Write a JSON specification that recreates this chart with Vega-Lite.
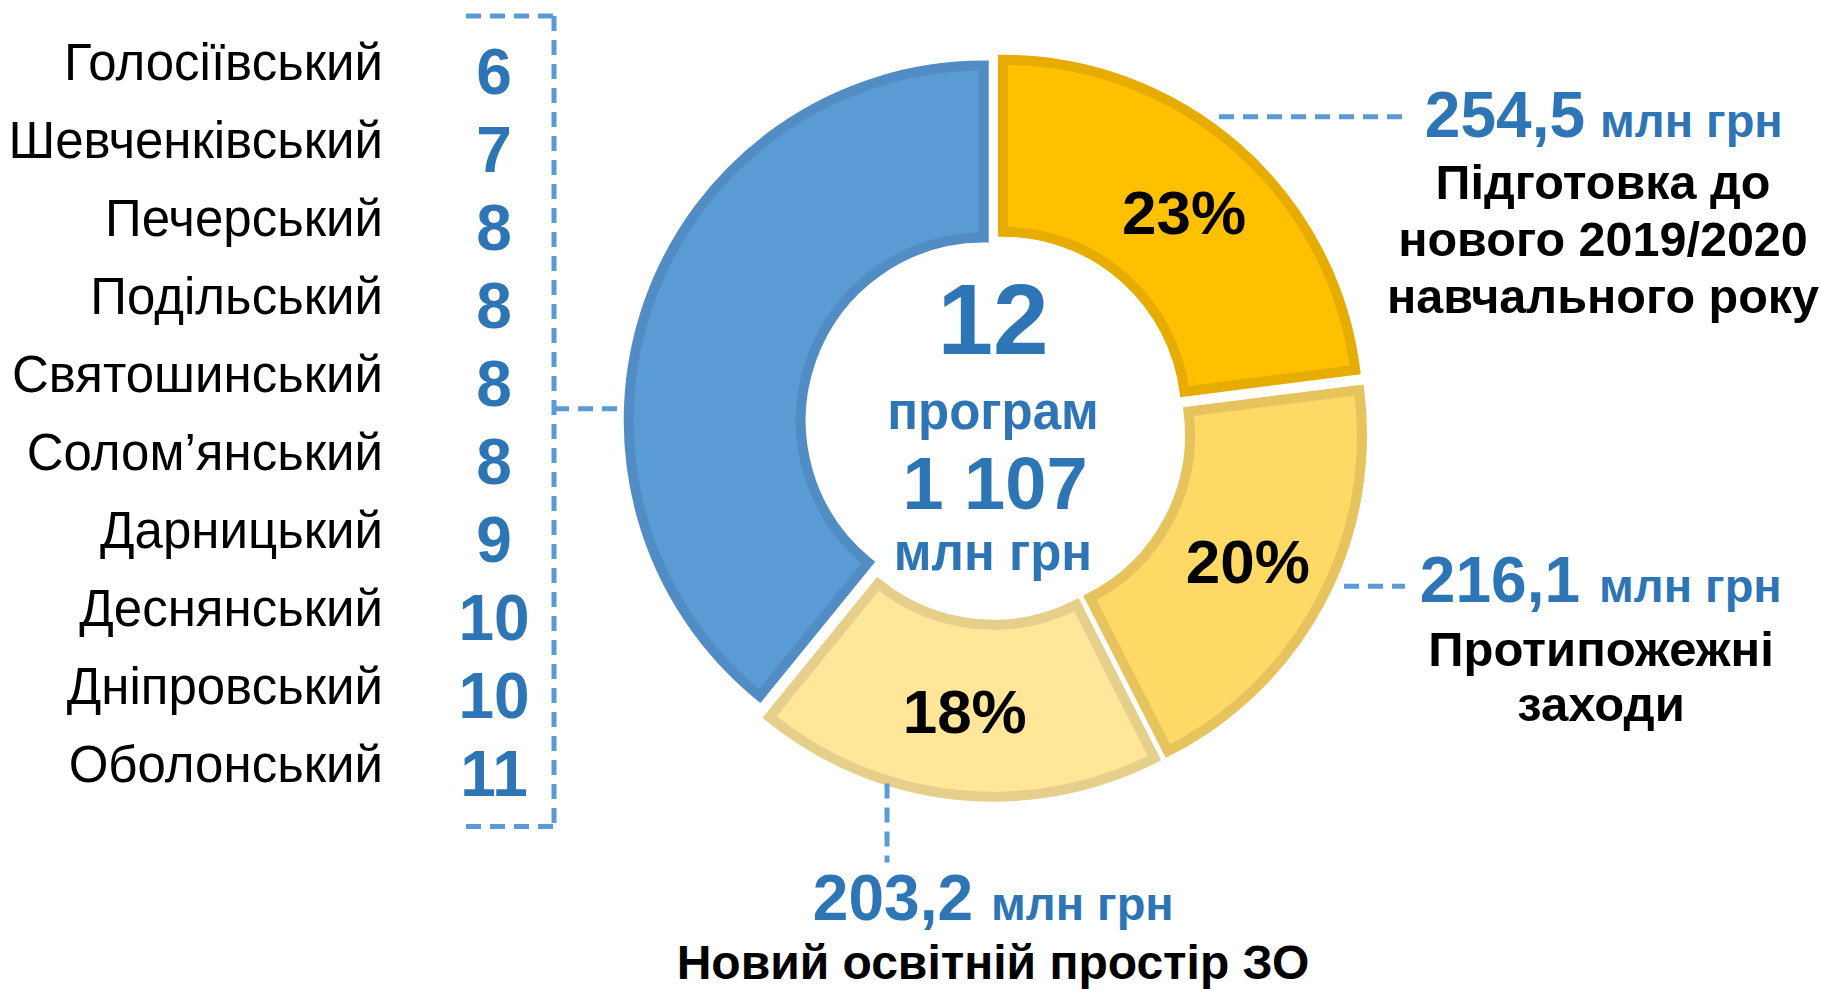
{
  "$schema": "https://vega.github.io/schema/vega-lite/v6.json",
  "width": 1821,
  "height": 989,
  "autosize": {"type": "fit", "contains": "padding"},
  "padding": 0,
  "background": "white",
  "config": {
    "view": {"stroke": null},
    "axis": {"disable": true},
    "locale": {"number": {"decimal": ",", "thousands": " ", "grouping": [3], "currency": ["", ""]}},
    "text": {"font": "Liberation Sans"}
  },
  "datasets": {
    "districts": [
      {"district": "Голосіївський", "count": 6},
      {"district": "Шевченківський", "count": 7},
      {"district": "Печерський", "count": 8},
      {"district": "Подільський", "count": 8},
      {"district": "Святошинський", "count": 8},
      {"district": "Солом’янський", "count": 8},
      {"district": "Дарницький", "count": 9},
      {"district": "Деснянський", "count": 10},
      {"district": "Дніпровський", "count": 10},
      {"district": "Оболонський", "count": 11}
    ],
    "programs": [
      {"label": "Підготовка до\nнового 2019/2020\nнавчального року", "amount": 254.5, "pct": "23%", "order": 1},
      {"label": "Протипожежні\nзаходи", "amount": 216.1, "pct": "20%", "order": 2},
      {"label": "Новий освітній простір ЗО", "amount": 203.2, "pct": "18%", "order": 3},
      {"label": "Районні програми", "amount": 433.2, "pct": "", "order": 4}
    ]
  },
  "resolve": {"scale": {"x": "independent", "y": "independent"}},
  "layer": [
    {
      "data": {"name": "districts"},
      "encoding": {
        "y": {"field": "district", "type": "nominal", "sort": null, "scale": {"type": "point", "range": [80, 782], "padding": 0}, "axis": null}
      },
      "layer": [
        {
          "mark": {"type": "text", "align": "right", "baseline": "alphabetic", "fontSize": 51, "color": "#000000"},
          "encoding": {
            "x": {"datum": 383, "type": "quantitative", "scale": {"domain": [0, 1821], "nice": false, "zero": false}, "axis": null},
            "text": {"field": "district", "type": "nominal"}
          }
        },
        {
          "mark": {"type": "text", "align": "center", "baseline": "alphabetic", "fontSize": 64, "fontWeight": "bold", "color": "#2E75B6", "dy": 14},
          "encoding": {
            "x": {"datum": 494, "type": "quantitative", "scale": {"domain": [0, 1821], "nice": false, "zero": false}, "axis": null},
            "text": {"field": "count", "type": "quantitative"}
          }
        }
      ]
    },
    {
      "data": {"values": [{}]},
      "layer": [
        {
          "data": {"name": "programs"},
          "transform": [
            {"stack": "amount", "groupby": [], "sort": [{"field": "order", "order": "ascending"}], "as": ["t0", "t1"]},
            {"filter": "datum.order == 1"}
          ],
          "mark": {"type": "arc", "radius": 355, "radius2": 183, "fill": "#FFC000", "stroke": "#E6AC00", "strokeWidth": 10, "xOffset": 8, "yOffset": -10},
          "encoding": {
            "x": {"datum": 995, "type": "quantitative", "scale": {"domain": [0, 1821], "nice": false, "zero": false}, "axis": null},
            "y": {"datum": 426, "type": "quantitative", "scale": {"domain": [0, 989], "nice": false, "zero": false, "reverse": true}, "axis": null},
            "theta": {"field": "t0", "type": "quantitative", "scale": {"domain": [0, 1107]}},
            "theta2": {"field": "t1"}
          }
        },
        {
          "data": {"name": "programs"},
          "transform": [
            {"stack": "amount", "groupby": [], "sort": [{"field": "order", "order": "ascending"}], "as": ["t0", "t1"]},
            {"filter": "datum.order == 2"}
          ],
          "mark": {"type": "arc", "radius": 355, "radius2": 183, "fill": "#FFD966", "stroke": "#E6C35C", "strokeWidth": 10, "xOffset": 12, "yOffset": 10},
          "encoding": {
            "x": {"datum": 995, "type": "quantitative", "scale": {"domain": [0, 1821], "nice": false, "zero": false}, "axis": null},
            "y": {"datum": 426, "type": "quantitative", "scale": {"domain": [0, 989], "nice": false, "zero": false, "reverse": true}, "axis": null},
            "theta": {"field": "t0", "type": "quantitative", "scale": {"domain": [0, 1107]}},
            "theta2": {"field": "t1"}
          }
        },
        {
          "data": {"name": "programs"},
          "transform": [
            {"stack": "amount", "groupby": [], "sort": [{"field": "order", "order": "ascending"}], "as": ["t0", "t1"]},
            {"filter": "datum.order == 3"}
          ],
          "mark": {"type": "arc", "radius": 355, "radius2": 183, "fill": "#FFE699", "stroke": "#E6CF8A", "strokeWidth": 10, "xOffset": -1.5, "yOffset": 17},
          "encoding": {
            "x": {"datum": 995, "type": "quantitative", "scale": {"domain": [0, 1821], "nice": false, "zero": false}, "axis": null},
            "y": {"datum": 426, "type": "quantitative", "scale": {"domain": [0, 989], "nice": false, "zero": false, "reverse": true}, "axis": null},
            "theta": {"field": "t0", "type": "quantitative", "scale": {"domain": [0, 1107]}},
            "theta2": {"field": "t1"}
          }
        },
        {
          "data": {"name": "programs"},
          "transform": [
            {"stack": "amount", "groupby": [], "sort": [{"field": "order", "order": "ascending"}], "as": ["t0", "t1"]},
            {"filter": "datum.order == 4"}
          ],
          "mark": {"type": "arc", "radius": 355, "radius2": 183, "fill": "#5B9BD5", "stroke": "#518DC4", "strokeWidth": 10, "xOffset": -11.3, "yOffset": -4.1},
          "encoding": {
            "x": {"datum": 995, "type": "quantitative", "scale": {"domain": [0, 1821], "nice": false, "zero": false}, "axis": null},
            "y": {"datum": 426, "type": "quantitative", "scale": {"domain": [0, 989], "nice": false, "zero": false, "reverse": true}, "axis": null},
            "theta": {"field": "t0", "type": "quantitative", "scale": {"domain": [0, 1107]}},
            "theta2": {"field": "t1"}
          }
        },
        {
          "data": {"name": "programs"},
          "mark": {"type": "text", "radius": 286, "fontSize": 62, "fontWeight": "bold", "color": "#000000", "align": "center", "baseline": "middle", "dy": 5},
          "encoding": {
            "x": {"datum": 995, "type": "quantitative", "scale": {"domain": [0, 1821], "nice": false, "zero": false}, "axis": null},
            "y": {"datum": 426, "type": "quantitative", "scale": {"domain": [0, 989], "nice": false, "zero": false, "reverse": true}, "axis": null},
            "theta": {"field": "amount", "type": "quantitative", "stack": true},
            "order": {"field": "order", "type": "quantitative"},
            "text": {"field": "pct", "type": "nominal"}
          }
        },
        {
          "mark": {"type": "text", "align": "center", "baseline": "alphabetic", "fontSize": 100, "fontWeight": "bold", "color": "#2E75B6"},
          "encoding": {
            "x": {"datum": 993, "type": "quantitative", "scale": {"domain": [0, 1821], "nice": false, "zero": false}, "axis": null},
            "y": {"datum": 355, "type": "quantitative", "scale": {"domain": [0, 989], "nice": false, "zero": false, "reverse": true}, "axis": null},
            "text": {"value": "12"}
          }
        },
        {
          "mark": {"type": "text", "align": "center", "baseline": "alphabetic", "fontSize": 51, "fontWeight": "bold", "color": "#2E75B6"},
          "encoding": {
            "x": {"datum": 993, "type": "quantitative", "scale": {"domain": [0, 1821], "nice": false, "zero": false}, "axis": null},
            "y": {"datum": 430, "type": "quantitative", "scale": {"domain": [0, 989], "nice": false, "zero": false, "reverse": true}, "axis": null},
            "text": {"value": "програм"}
          }
        },
        {
          "data": {"name": "programs"},
          "transform": [{"aggregate": [{"op": "sum", "field": "amount", "as": "total"}]}],
          "mark": {"type": "text", "align": "center", "baseline": "alphabetic", "fontSize": 74, "fontWeight": "bold", "color": "#2E75B6"},
          "encoding": {
            "x": {"datum": 995, "type": "quantitative", "scale": {"domain": [0, 1821], "nice": false, "zero": false}, "axis": null},
            "y": {"datum": 511, "type": "quantitative", "scale": {"domain": [0, 989], "nice": false, "zero": false, "reverse": true}, "axis": null},
            "text": {"field": "total", "type": "quantitative", "format": ",.0f"}
          }
        },
        {
          "mark": {"type": "text", "align": "center", "baseline": "alphabetic", "fontSize": 51, "fontWeight": "bold", "color": "#2E75B6"},
          "encoding": {
            "x": {"datum": 993, "type": "quantitative", "scale": {"domain": [0, 1821], "nice": false, "zero": false}, "axis": null},
            "y": {"datum": 572, "type": "quantitative", "scale": {"domain": [0, 989], "nice": false, "zero": false, "reverse": true}, "axis": null},
            "text": {"value": "млн грн"}
          }
        },
        {
          "data": {"name": "programs"},
          "transform": [{"filter": "datum.order == 1"}],
          "mark": {"type": "text", "align": "right", "baseline": "alphabetic", "fontSize": 64, "fontWeight": "bold", "color": "#2E75B6"},
          "encoding": {
            "x": {"datum": 1585, "type": "quantitative", "scale": {"domain": [0, 1821], "nice": false, "zero": false}, "axis": null},
            "y": {"datum": 137, "type": "quantitative", "scale": {"domain": [0, 989], "nice": false, "zero": false, "reverse": true}, "axis": null},
            "text": {"field": "amount", "type": "quantitative", "format": ",.1f"}
          }
        },
        {
          "data": {"name": "programs"},
          "transform": [{"filter": "datum.order == 1"}],
          "mark": {"type": "text", "align": "left", "baseline": "alphabetic", "fontSize": 47, "fontWeight": "bold", "color": "#2E75B6"},
          "encoding": {
            "x": {"datum": 1600, "type": "quantitative", "scale": {"domain": [0, 1821], "nice": false, "zero": false}, "axis": null},
            "y": {"datum": 137, "type": "quantitative", "scale": {"domain": [0, 989], "nice": false, "zero": false, "reverse": true}, "axis": null},
            "text": {"value": "млн грн"}
          }
        },
        {
          "data": {"name": "programs"},
          "transform": [{"filter": "datum.order == 1"}],
          "mark": {"type": "text", "align": "center", "baseline": "alphabetic", "fontSize": 48.5, "fontWeight": "bold", "color": "#000000", "lineBreak": "\n", "lineHeight": 57},
          "encoding": {
            "x": {"datum": 1603, "type": "quantitative", "scale": {"domain": [0, 1821], "nice": false, "zero": false}, "axis": null},
            "y": {"datum": 200, "type": "quantitative", "scale": {"domain": [0, 989], "nice": false, "zero": false, "reverse": true}, "axis": null},
            "text": {"field": "label", "type": "nominal"}
          }
        },
        {
          "data": {"name": "programs"},
          "transform": [{"filter": "datum.order == 2"}],
          "mark": {"type": "text", "align": "right", "baseline": "alphabetic", "fontSize": 64, "fontWeight": "bold", "color": "#2E75B6"},
          "encoding": {
            "x": {"datum": 1580, "type": "quantitative", "scale": {"domain": [0, 1821], "nice": false, "zero": false}, "axis": null},
            "y": {"datum": 604, "type": "quantitative", "scale": {"domain": [0, 989], "nice": false, "zero": false, "reverse": true}, "axis": null},
            "text": {"field": "amount", "type": "quantitative", "format": ",.1f"}
          }
        },
        {
          "data": {"name": "programs"},
          "transform": [{"filter": "datum.order == 2"}],
          "mark": {"type": "text", "align": "left", "baseline": "alphabetic", "fontSize": 47, "fontWeight": "bold", "color": "#2E75B6"},
          "encoding": {
            "x": {"datum": 1599, "type": "quantitative", "scale": {"domain": [0, 1821], "nice": false, "zero": false}, "axis": null},
            "y": {"datum": 604, "type": "quantitative", "scale": {"domain": [0, 989], "nice": false, "zero": false, "reverse": true}, "axis": null},
            "text": {"value": "млн грн"}
          }
        },
        {
          "data": {"name": "programs"},
          "transform": [{"filter": "datum.order == 2"}],
          "mark": {"type": "text", "align": "center", "baseline": "alphabetic", "fontSize": 49, "fontWeight": "bold", "color": "#000000", "lineBreak": "\n", "lineHeight": 55},
          "encoding": {
            "x": {"datum": 1601, "type": "quantitative", "scale": {"domain": [0, 1821], "nice": false, "zero": false}, "axis": null},
            "y": {"datum": 668, "type": "quantitative", "scale": {"domain": [0, 989], "nice": false, "zero": false, "reverse": true}, "axis": null},
            "text": {"field": "label", "type": "nominal"}
          }
        },
        {
          "data": {"name": "programs"},
          "transform": [{"filter": "datum.order == 3"}],
          "mark": {"type": "text", "align": "right", "baseline": "alphabetic", "fontSize": 64, "fontWeight": "bold", "color": "#2E75B6"},
          "encoding": {
            "x": {"datum": 973, "type": "quantitative", "scale": {"domain": [0, 1821], "nice": false, "zero": false}, "axis": null},
            "y": {"datum": 923, "type": "quantitative", "scale": {"domain": [0, 989], "nice": false, "zero": false, "reverse": true}, "axis": null},
            "text": {"field": "amount", "type": "quantitative", "format": ",.1f"}
          }
        },
        {
          "data": {"name": "programs"},
          "transform": [{"filter": "datum.order == 3"}],
          "mark": {"type": "text", "align": "left", "baseline": "alphabetic", "fontSize": 47, "fontWeight": "bold", "color": "#2E75B6"},
          "encoding": {
            "x": {"datum": 991, "type": "quantitative", "scale": {"domain": [0, 1821], "nice": false, "zero": false}, "axis": null},
            "y": {"datum": 923, "type": "quantitative", "scale": {"domain": [0, 989], "nice": false, "zero": false, "reverse": true}, "axis": null},
            "text": {"value": "млн грн"}
          }
        },
        {
          "data": {"name": "programs"},
          "transform": [{"filter": "datum.order == 3"}],
          "mark": {"type": "text", "align": "center", "baseline": "alphabetic", "fontSize": 48, "fontWeight": "bold", "color": "#000000"},
          "encoding": {
            "x": {"datum": 993, "type": "quantitative", "scale": {"domain": [0, 1821], "nice": false, "zero": false}, "axis": null},
            "y": {"datum": 982, "type": "quantitative", "scale": {"domain": [0, 989], "nice": false, "zero": false, "reverse": true}, "axis": null},
            "text": {"field": "label", "type": "nominal"}
          }
        },
        {
          "mark": {"type": "rule", "color": "#5B9BD5", "strokeWidth": 5, "strokeDash": [15, 9]},
          "encoding": {
            "x": {"datum": 1219, "type": "quantitative", "scale": {"domain": [0, 1821], "nice": false, "zero": false}, "axis": null},
            "x2": {"datum": 1409},
            "y": {"datum": 117, "type": "quantitative", "scale": {"domain": [0, 989], "nice": false, "zero": false, "reverse": true}, "axis": null}
          }
        },
        {
          "mark": {"type": "rule", "color": "#5B9BD5", "strokeWidth": 5, "strokeDash": [15, 9]},
          "encoding": {
            "x": {"datum": 1344, "type": "quantitative", "scale": {"domain": [0, 1821], "nice": false, "zero": false}, "axis": null},
            "x2": {"datum": 1405},
            "y": {"datum": 588, "type": "quantitative", "scale": {"domain": [0, 989], "nice": false, "zero": false, "reverse": true}, "axis": null}
          }
        },
        {
          "mark": {"type": "rule", "color": "#5B9BD5", "strokeWidth": 5, "strokeDash": [15, 9]},
          "encoding": {
            "x": {"datum": 887, "type": "quantitative", "scale": {"domain": [0, 1821], "nice": false, "zero": false}, "axis": null},
            "y": {"datum": 786, "type": "quantitative", "scale": {"domain": [0, 989], "nice": false, "zero": false, "reverse": true}, "axis": null},
            "y2": {"datum": 865}
          }
        },
        {
          "mark": {"type": "rule", "color": "#5B9BD5", "strokeWidth": 5, "strokeDash": [15, 9]},
          "encoding": {
            "x": {"datum": 466, "type": "quantitative", "scale": {"domain": [0, 1821], "nice": false, "zero": false}, "axis": null},
            "x2": {"datum": 554},
            "y": {"datum": 16, "type": "quantitative", "scale": {"domain": [0, 989], "nice": false, "zero": false, "reverse": true}, "axis": null}
          }
        },
        {
          "mark": {"type": "rule", "color": "#5B9BD5", "strokeWidth": 5, "strokeDash": [15, 9]},
          "encoding": {
            "x": {"datum": 466, "type": "quantitative", "scale": {"domain": [0, 1821], "nice": false, "zero": false}, "axis": null},
            "x2": {"datum": 554},
            "y": {"datum": 829, "type": "quantitative", "scale": {"domain": [0, 989], "nice": false, "zero": false, "reverse": true}, "axis": null}
          }
        },
        {
          "mark": {"type": "rule", "color": "#5B9BD5", "strokeWidth": 5, "strokeDash": [15, 9]},
          "encoding": {
            "x": {"datum": 554, "type": "quantitative", "scale": {"domain": [0, 1821], "nice": false, "zero": false}, "axis": null},
            "y": {"datum": 16, "type": "quantitative", "scale": {"domain": [0, 989], "nice": false, "zero": false, "reverse": true}, "axis": null},
            "y2": {"datum": 829}
          }
        },
        {
          "mark": {"type": "rule", "color": "#5B9BD5", "strokeWidth": 5, "strokeDash": [15, 9]},
          "encoding": {
            "x": {"datum": 554, "type": "quantitative", "scale": {"domain": [0, 1821], "nice": false, "zero": false}, "axis": null},
            "x2": {"datum": 627},
            "y": {"datum": 410, "type": "quantitative", "scale": {"domain": [0, 989], "nice": false, "zero": false, "reverse": true}, "axis": null}
          }
        }
      ]
    }
  ]
}
